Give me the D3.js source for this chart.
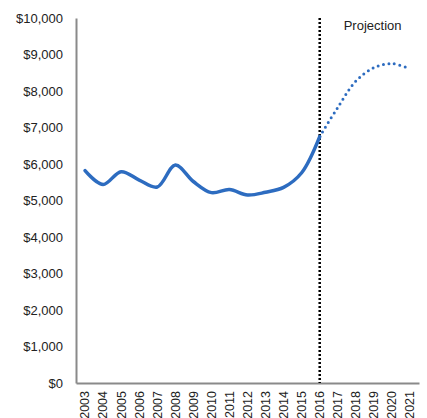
<!DOCTYPE html>
<html>
<head>
<meta charset="utf-8">
<script src="https://cdn.jsdelivr.net/npm/d3@7"></script>
<style>
  html, body { margin: 0; padding: 0; background: #fff; }
  svg { display: block; font-family: "Liberation Sans", Arial, sans-serif; }
</style>
</head>
<body>
<div id="chart"></div>
<script>
const years = ['2003', '2004', '2005', '2006', '2007', '2008', '2009', '2010', '2011', '2012',
  '2013', '2014', '2015', '2016', '2017', '2018', '2019', '2020', '2021'];

// actual values 2003-2016
const actualYears = years.slice(0, 14);
const actualValues = [5820, 5440, 5790, 5560, 5370, 5970, 5520, 5215, 5300, 5150, 5225, 5360, 5760, 6750];

// projection 2016-2021
const projYears = years.slice(13);
const projValues = [6750, 7550, 8270, 8640, 8750, 8610];

const yTicks = [0, 1000, 2000, 3000, 4000, 5000, 6000, 7000, 8000, 9000, 10000];
const splitYear = '2016';
const projLabel = 'Projection';

const width = 427;
const height = 418;
const margin = { top: 18, right: 8, bottom: 35, left: 76 };
const innerW = width - margin.left - margin.right;
const innerH = height - margin.top - margin.bottom;

const blue = '#2d6cc0';
const axisGray = '#8a8a8a';

const x = d3.scaleBand().domain(years).range([0, innerW]);
const cx = d => x(d) + x.bandwidth() / 2;
const y = d3.scaleLinear().domain([0, 10000]).range([innerH, 0]);

const svg = d3.select('#chart')
  .append('svg')
  .attr('width', width)
  .attr('height', height)
  .append('g')
  .attr('transform', `translate(${margin.left},${margin.top})`);

// y axis
const yAxis = svg.append('g')
  .call(d3.axisLeft(y).tickValues(yTicks).tickSize(0).tickPadding(13)
    .tickFormat(d => '$' + d3.format(',')(d)));
yAxis.select('.domain').attr('stroke', axisGray).attr('stroke-width', 2);
yAxis.selectAll('text').attr('font-size', 13).attr('fill', '#222')
  .attr('font-family', '"Liberation Sans", Arial, sans-serif');

// x axis
const xAxis = svg.append('g')
  .attr('transform', `translate(0,${innerH})`)
  .call(d3.axisBottom(x).tickSize(0));
xAxis.select('.domain').attr('stroke', axisGray).attr('stroke-width', 2);
xAxis.selectAll('text')
  .attr('font-size', 12.5)
  .attr('fill', '#222')
  .attr('font-family', '"Liberation Sans", Arial, sans-serif')
  .attr('transform', 'rotate(-90)')
  .attr('text-anchor', 'end')
  .attr('x', -8)
  .attr('y', 0)
  .attr('dy', '0.35em');

// vertical divider at projection start
svg.append('line')
  .attr('x1', cx(splitYear)).attr('x2', cx(splitYear))
  .attr('y1', 0).attr('y2', innerH)
  .attr('stroke', '#000')
  .attr('stroke-width', 2.5)
  .attr('stroke-dasharray', '2,2');

svg.append('text')
  .attr('x', cx(splitYear) + 24)
  .attr('y', 12)
  .attr('font-size', 13)
  .attr('fill', '#222')
  .text(projLabel);

const line = d3.line()
  .x(d => cx(d[0]))
  .y(d => y(d[1]))
  .curve(d3.curveCatmullRom.alpha(0.5));

svg.append('path')
  .datum(d3.zip(actualYears, actualValues))
  .attr('fill', 'none')
  .attr('stroke', blue)
  .attr('stroke-width', 3.5)
  .attr('stroke-linecap', 'round')
  .attr('d', line);

svg.append('path')
  .datum(d3.zip(projYears, projValues))
  .attr('fill', 'none')
  .attr('stroke', blue)
  .attr('stroke-width', 3)
  .attr('stroke-linecap', 'round')
  .attr('stroke-dasharray', '0,5.5')
  .attr('d', line);
</script>
</body>
</html>
